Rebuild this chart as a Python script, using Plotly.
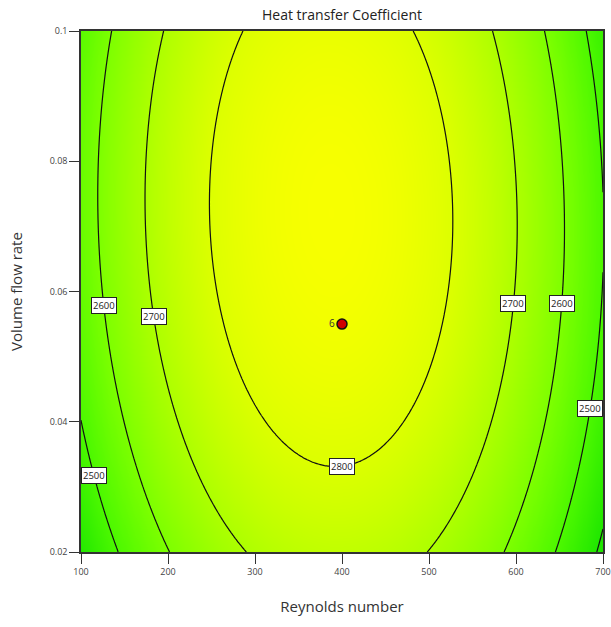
import numpy as np
import plotly.graph_objects as go

# Fitted quadratic response-surface model in coded factors
# A = Reynolds number (coded -1..1 over 100..700), B = Volume flow rate (coded -1..1 over 0.02..0.1)
model_terms = ["Intercept", "A", "B", "AB", "A^2", "B^2"]
model_coefs = [2867.0, -25.2, 47.2, -11.5, -344.0, -78.6]

re_range = [100, 700]
q_range = [0.02, 0.1]

contour_levels = [2400, 2500, 2600, 2700, 2800]

design_point_re = [400]
design_point_q = [0.055]
design_point_label = ["6"]

x_ticks = [100, 200, 300, 400, 500, 600, 700]
y_ticks = [0.02, 0.04, 0.06, 0.08, 0.1]
y_tick_text = ["0.02", "0.04", "0.06", "0.08", "0.1"]

# contour label placement: level, flow rate, side
label_levels = [2600, 2700, 2500, 2700, 2600, 2500, 2800]
label_q = [0.0579, 0.0561, 0.0318, 0.0582, 0.0582, 0.042, None]
label_side = ["left", "left", "left", "right", "right", "right", "bottom"]

b0, b1, b2, b12, b11, b22 = model_coefs
re_c, re_h = (re_range[0] + re_range[1]) / 2, (re_range[1] - re_range[0]) / 2
q_c, q_h = (q_range[0] + q_range[1]) / 2, (q_range[1] - q_range[0]) / 2


def response(re, q):
    a = (re - re_c) / re_h
    b = (q - q_c) / q_h
    return b0 + b1 * a + b2 * b + b12 * a * b + b11 * a * a + b22 * b * b


re_grid = np.linspace(re_range[0], re_range[1], 241)
q_grid = np.linspace(q_range[0], q_range[1], 241)
RE, Q = np.meshgrid(re_grid, q_grid)
Z = response(RE, Q)

colorscale = [
    [0.0, "#1fe600"],
    [0.21, "#4cf800"],
    [0.42, "#7dff00"],
    [0.63, "#adff00"],
    [0.84, "#dcff00"],
    [1.0, "#f8ff00"],
]

fig = go.Figure()
fig.add_trace(go.Contour(
    x=re_grid, y=q_grid, z=Z,
    zmin=2400, zmax=2876,
    colorscale=colorscale,
    showscale=False,
    contours=dict(start=contour_levels[0], end=contour_levels[-1], size=100,
                  coloring="heatmap", showlabels=False),
    line=dict(color="#111111", width=1.2),
    hoverinfo="skip",
))

fig.add_trace(go.Scatter(
    x=design_point_re, y=design_point_q,
    mode="markers+text",
    text=design_point_label,
    textposition="middle left",
    textfont=dict(size=10, color="#333333", family="Open Sans"),
    marker=dict(size=10, color="#d00000", line=dict(color="#111111", width=1.5)),
    showlegend=False,
    hoverinfo="skip",
))

annotations = []
for lev, q, side in zip(label_levels, label_q, label_side):
    if side == "bottom":
        # lowest point of the closed contour at A = 0
        roots = np.roots([b22, b2, b0 - lev])
        bb = float(np.min(roots.real))
        xx, yy = re_c, q_c + bb * q_h
    else:
        bb = (q - q_c) / q_h
        roots = np.roots([b11, b1 + b12 * bb, b0 + b2 * bb + b22 * bb * bb - lev]).real
        aa = float(np.min(roots) if side == "left" else np.max(roots))
        xx, yy = re_c + aa * re_h, q
    annotations.append(dict(
        x=xx, y=yy, xref="x", yref="y", text=str(lev), showarrow=False,
        font=dict(size=9.5, color="#222222", family="Open Sans"),
        bgcolor="white", bordercolor="#222222", borderwidth=1, borderpad=1,
    ))

annotations.append(dict(
    x=0.5, y=1.0, xref="paper", yref="paper", yanchor="bottom", yshift=5,
    text="Heat transfer Coefficient", showarrow=False,
    font=dict(size=14, color="#222222", family="Open Sans"),
))

fig.update_layout(
    width=611, height=627,
    margin=dict(l=81, r=8, t=31, b=75),
    paper_bgcolor="white", plot_bgcolor="white",
    font=dict(family="Open Sans", color="#333333"),
    annotations=annotations,
    xaxis=dict(
        range=re_range, tickvals=x_ticks, ticks="outside", ticklen=10, tickwidth=1.3,
        tickcolor="#333333", showline=True, linecolor="#333333", linewidth=1.5, mirror=True,
        showgrid=False, zeroline=False, tickfont=dict(size=9, color="#444444"),
        automargin=False,
        title=dict(text="Reynolds number", font=dict(size=15, color="#333333"), standoff=25),
    ),
    yaxis=dict(
        range=q_range, tickvals=y_ticks, ticktext=y_tick_text, ticks="outside", ticklen=10,
        tickwidth=1.3, tickcolor="#333333", showline=True, linecolor="#333333", linewidth=1.5,
        mirror=True, showgrid=False, zeroline=False, tickfont=dict(size=9, color="#444444"),
        automargin=False,
        title=dict(text="Volume flow rate", font=dict(size=15, color="#333333"), standoff=23),
    ),
)

fig.write_html("out.html")
